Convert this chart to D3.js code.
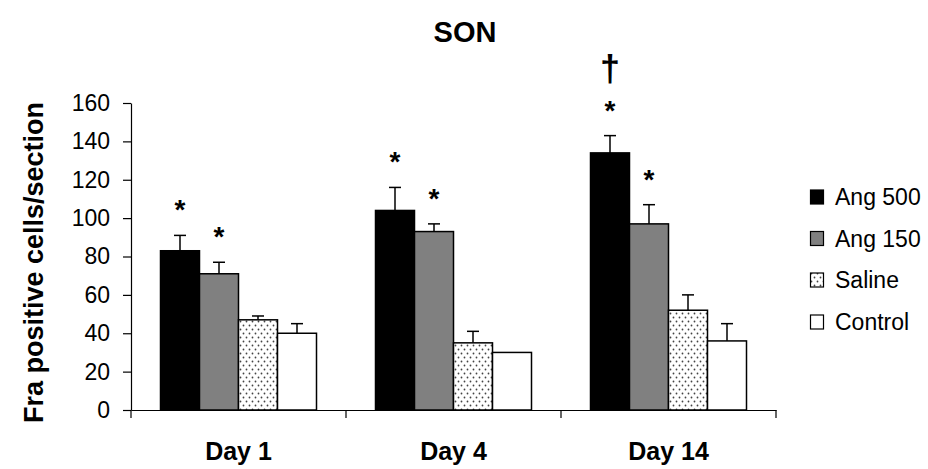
<!DOCTYPE html>
<html>
<head>
<meta charset="utf-8">
<script src="https://cdn.jsdelivr.net/npm/d3@7"></script>
<style>
  html, body { margin: 0; padding: 0; background: #fff; }
  svg { display: block; }
  text { font-family: "Liberation Sans", Arial, Helvetica, sans-serif; fill: #000; }
</style>
</head>
<body>
<svg id="chart" width="928" height="469"></svg>
<script>
// Fra-positive cells per section in the SON, by day and treatment group
const days = ["Day 1", "Day 4", "Day 14"];
const seriesNames = ["Ang 500", "Ang 150", "Saline", "Control"];

const ang500 = [83, 104, 134];
const ang150 = [71, 93, 97];
const saline = [47, 35, 52];
const control = [40, 30, 36];

// upper end of each error bar (mean + SEM)
const ang500Err = [91, 116, 143];
const ang150Err = [77, 97, 107];
const salineErr = [49, 41, 60];
const controlErr = [45, 30, 45];

// significance markers drawn above the error bars
const ang500Marks = ["*", "*", "*"];
const ang150Marks = ["*", "*", "*"];
const ang500Dagger = ["", "", "†"];

const yTicks = [0, 20, 40, 60, 80, 100, 120, 140, 160];

const values = [ang500, ang150, saline, control];
const errs = [ang500Err, ang150Err, salineErr, controlErr];
const marks = [ang500Marks, ang150Marks, null, null];

const svg = d3.select("#chart");

// saline dot pattern
const defs = svg.append("defs");
const pat = defs.append("pattern")
  .attr("id", "dots")
  .attr("patternUnits", "userSpaceOnUse")
  .attr("width", 6).attr("height", 8);
pat.append("rect").attr("width", 6).attr("height", 8).attr("fill", "#fff");
pat.append("circle").attr("cx", 1.5).attr("cy", 1.5).attr("r", 0.9).attr("fill", "#444");
pat.append("circle").attr("cx", 4.5).attr("cy", 5.5).attr("r", 0.9).attr("fill", "#444");

const fills = ["#000", "#808080", "url(#dots)", "#fff"];

const plot = { left: 131, right: 776, top: 103, bottom: 410 };

const x0 = d3.scaleBand().domain(days).range([plot.left, plot.right]).padding(0);
const x1 = d3.scaleBand().domain(seriesNames)
  .range([29.5, x0.bandwidth() - 29.5]).padding(0);
const y = d3.scaleLinear().domain([0, 160]).range([plot.bottom, plot.top]);

// title
svg.append("text")
  .attr("x", 465).attr("y", 42)
  .attr("text-anchor", "middle")
  .style("font-size", "29px").style("font-weight", "bold")
  .text("SON");

// y axis
const yAxis = svg.append("g")
  .attr("transform", `translate(${plot.left},0)`)
  .call(d3.axisLeft(y).tickValues(yTicks).tickSize(8).tickSizeOuter(0).tickPadding(13));
yAxis.select(".domain").attr("stroke", "#000").attr("stroke-width", 1.2);
yAxis.selectAll(".tick line").attr("stroke", "#000").attr("stroke-width", 1.2);
yAxis.selectAll(".tick text").style("font-size", "23px").style("font-family", "Liberation Sans, Arial, sans-serif");

svg.append("text")
  .attr("transform", `translate(43,${(plot.top + plot.bottom) / 2 + 6}) rotate(-90)`)
  .attr("text-anchor", "middle")
  .style("font-size", "27px").style("font-weight", "bold")
  .text("Fra positive cells/section");

// x axis: labels at the category centres, ticks at category boundaries
const xAxis = svg.append("g")
  .attr("transform", `translate(0,${plot.bottom})`)
  .call(d3.axisBottom(x0).tickSize(0).tickSizeOuter(0).tickPadding(32));
xAxis.select(".domain").attr("stroke", "#000").attr("stroke-width", 1.2);
xAxis.selectAll(".tick text")
  .style("font-size", "25px").style("font-weight", "bold")
  .style("font-family", "Liberation Sans, Arial, sans-serif");

const bounds = days.map(d => x0(d)).concat([x0(days[days.length - 1]) + x0.bandwidth()]);
xAxis.selectAll(".bound").data(bounds).enter().append("line")
  .attr("class", "bound")
  .attr("x1", d => d).attr("x2", d => d)
  .attr("y1", 0).attr("y2", 8)
  .attr("stroke", "#000").attr("stroke-width", 1.2);

// bars
const groups = svg.selectAll(".day").data(days).enter().append("g")
  .attr("class", "day")
  .attr("transform", d => `translate(${x0(d)},0)`);

groups.each(function(day, di) {
  const g = d3.select(this);
  seriesNames.forEach((s, si) => {
    const v = values[si][di];
    const e = errs[si][di];
    const bx = x1(s);
    const bw = x1.bandwidth();
    const cx = bx + bw / 2;
    if (e > v) {
      g.append("line")
        .attr("x1", cx).attr("x2", cx)
        .attr("y1", y(v)).attr("y2", y(e))
        .attr("stroke", "#000").attr("stroke-width", 1.5);
      g.append("line")
        .attr("x1", cx - 6).attr("x2", cx + 6)
        .attr("y1", y(e)).attr("y2", y(e))
        .attr("stroke", "#000").attr("stroke-width", 1.5);
    }
    g.append("rect")
      .attr("x", bx).attr("y", y(v))
      .attr("width", bw).attr("height", y(0) - y(v))
      .attr("fill", fills[si])
      .attr("stroke", "#000").attr("stroke-width", 1.5);

    const m = marks[si] ? marks[si][di] : "";
    if (m) {
      g.append("text")
        .attr("x", cx).attr("y", y(e) - 16)
        .attr("text-anchor", "middle")
        .style("font-size", "28px").style("font-weight", "bold")
        .text(m);
    }
    if (si === 0 && ang500Dagger[di]) {
      g.append("text")
        .attr("x", cx).attr("y", y(e) - 55)
        .attr("text-anchor", "middle")
        .style("font-size", "36px").style("font-weight", "bold")
        .text(ang500Dagger[di]);
    }
  });
});

// legend
const legend = svg.append("g").attr("transform", "translate(810,0)");
const legendY = [197, 238.5, 280, 322];
seriesNames.forEach((s, i) => {
  legend.append("rect")
    .attr("x", 0.5).attr("y", legendY[i] - 7)
    .attr("width", 13).attr("height", 14)
    .attr("fill", fills[i])
    .attr("stroke", "#000").attr("stroke-width", 1.2);
  legend.append("text")
    .attr("x", 25).attr("y", legendY[i] + 8)
    .style("font-size", "23px")
    .text(s);
});
</script>
</body>
</html>
